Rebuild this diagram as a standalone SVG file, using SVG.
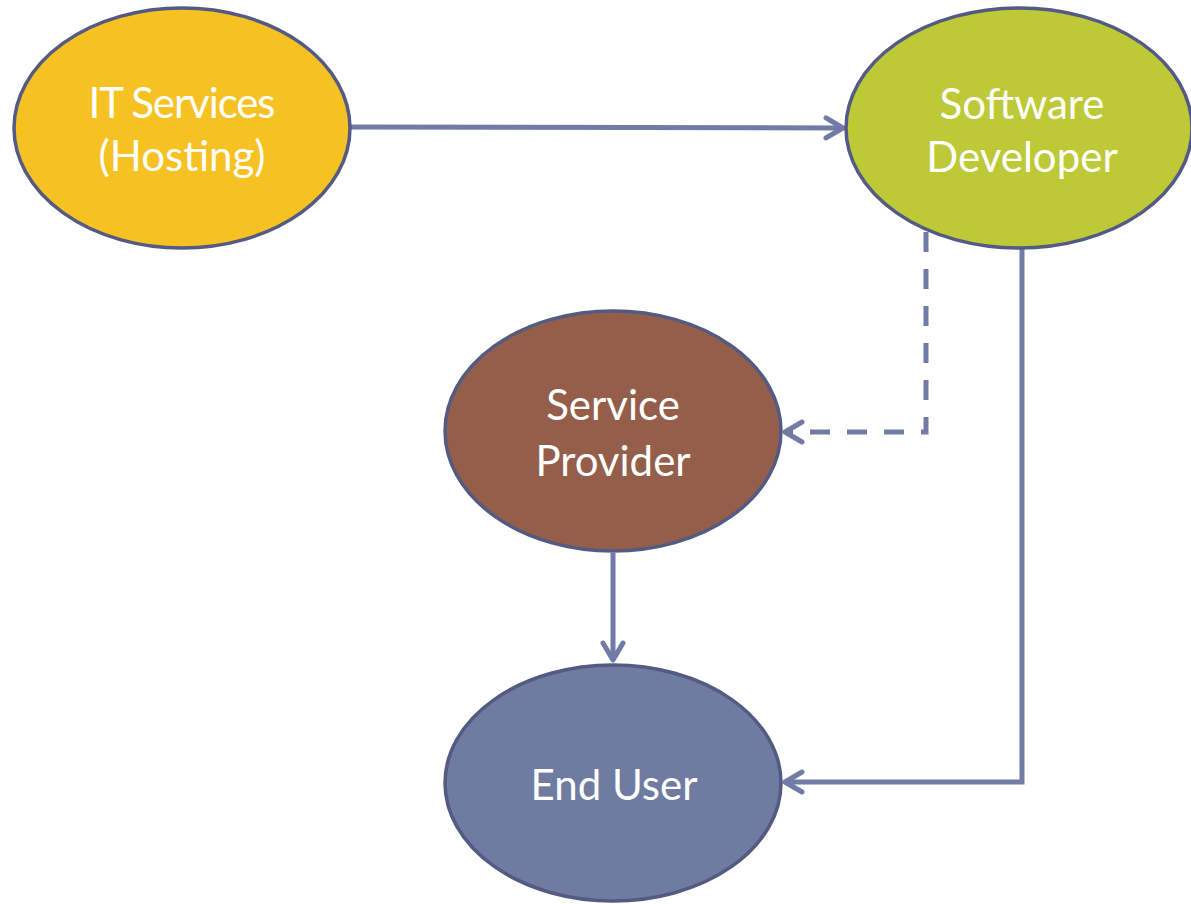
<svg xmlns="http://www.w3.org/2000/svg" width="1191" height="904" viewBox="0 0 1191 904">
  <style>
    .node { stroke: #535b82; stroke-width: 3.5; }
    .label { font-family: Lato, "Open Sans", sans-serif; font-size: 42px; fill: #ffffff; text-anchor: middle; }
    .edge { fill: none; stroke: #717ba5; stroke-width: 5; stroke-linejoin: miter; }
    .dashed { stroke-dasharray: 20 17; }
  </style>
  <defs>
    <marker id="arrow" viewBox="0 0 26 26" refX="23" refY="13" markerWidth="26" markerHeight="26" markerUnits="userSpaceOnUse" orient="auto">
      <path d="M6,3 L23,13 L6,23" fill="none" stroke="#717ba5" stroke-width="5" stroke-linecap="round" stroke-linejoin="round"/>
    </marker>
  </defs>
  <rect width="1191" height="904" fill="#ffffff"/>

  <g id="connectors">
    <path class="edge" d="M351,127 L843,128" marker-end="url(#arrow)"/>
    <path class="edge dashed" d="M926,232 L926,432 L785,432" marker-end="url(#arrow)"/>
    <path class="edge" d="M613,553 L613,660" marker-end="url(#arrow)"/>
    <path class="edge" d="M1022,248 L1022,782 L785,782" marker-end="url(#arrow)"/>
  </g>

  <g id="it-services">
    <ellipse class="node" cx="182" cy="128" rx="168" ry="120" fill="#f6c223"/>
    <text class="label" x="182" y="118" textLength="187">IT Services</text>
    <text class="label" x="182" y="171">(Hosting)</text>
  </g>

  <g id="software-developer">
    <ellipse class="node" cx="1019" cy="128" rx="173" ry="120" fill="#bdc937"/>
    <text class="label" x="1022" y="119">Software</text>
    <text class="label" x="1022" y="172">Developer</text>
  </g>

  <g id="service-provider">
    <ellipse class="node" cx="613" cy="431" rx="168" ry="120" fill="#945e4a"/>
    <text class="label" x="613" y="420">Service</text>
    <text class="label" x="613" y="476">Provider</text>
  </g>

  <g id="end-user">
    <ellipse class="node" cx="613" cy="783" rx="168" ry="118" fill="#6f7ba1"/>
    <text class="label" x="614" y="800">End User</text>
  </g>
</svg>
